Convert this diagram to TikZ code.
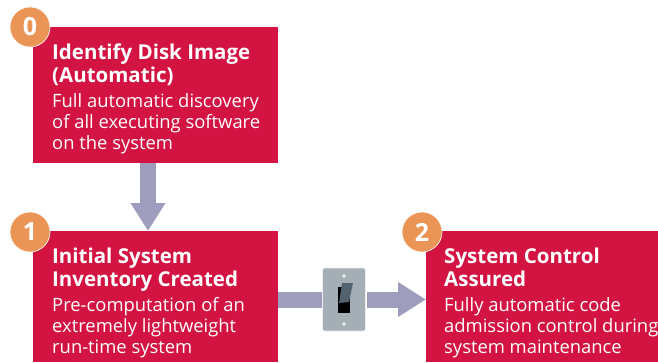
\documentclass[tikz,border=0pt]{standalone}
\usepackage{fontspec}
\setmainfont{Open Sans}
\usetikzlibrary{arrows.meta}
\definecolor{boxred}{HTML}{D31342}
\definecolor{stepdisc}{HTML}{EA9555}
\definecolor{flowpurple}{HTML}{9F9DBE}
\definecolor{plategrey}{HTML}{A3AEB5}
\definecolor{levergrey}{HTML}{52636F}
\tikzset{
	stagebox/.style={fill=boxred, anchor=north west, inner sep=0pt, outer sep=0pt},
	stagetitle/.style={anchor=north west, inner sep=0pt, text=white, align=left, font=\fontsize{20.5}{23}\selectfont\bfseries},
	stagebody/.style={anchor=north west, inner sep=0pt, text=white, align=left, font=\fontsize{18.4}{21}\selectfont},
	stagedisc/.style={circle, fill=stepdisc, draw=white!90!stepdisc, line width=0.7pt, minimum size=40pt, inner sep=0pt, text=white, font=\fontsize{25}{25}\selectfont\bfseries},
	flow/.style={line width=16pt, flowpurple, -{Triangle[length=28pt,width=33pt]}},
	flowplain/.style={line width=16pt, flowpurple}
}

\begin{document}
\begin{tikzpicture}[x=1pt, y=-1pt]
	\useasboundingbox (0,0) rectangle (658,362);
	% boxes
	\node[stagebox, minimum width=245pt, minimum height=136pt] (inventorydisk) at (33,27) {};
	\node[stagebox, minimum width=245pt, minimum height=131pt] (inventorysys) at (33,231) {};
	\node[stagebox, minimum width=232pt, minimum height=131pt] (controlsys) at (426,231) {};
	% texts
	\node[stagetitle] (titledisk) at (52,44) {Identify Disk Image\\(Automatic)};
	\node[stagebody] (bodydisk) at (52,93) {Full automatic discovery\\of all executing software\\on the system};
	\node[stagetitle] (titleinv) at (52,248) {Initial System\\Inventory Created};
	\node[stagebody] (bodyinv) at (52,297) {Pre-computation of an\\extremely lightweight\\run-time system};
	\node[stagetitle] (titlectl) at (444,248) {System Control\\Assured};
	\node[stagebody] (bodyctl) at (444,297) {Fully automatic code\\admission control during\\system maintenance};
	% numbered discs
	\node[stagedisc] (disczero) at (30,27) {0};
	\node[stagedisc] (discone) at (30,232) {1};
	\node[stagedisc] (disctwo) at (422,232) {2};
	% switch
	\node[fill=plategrey, draw=white!80!plategrey, line width=0.6pt, rounded corners=2.5pt, minimum width=43pt, minimum height=63pt, inner sep=0pt] (switch) at (344,299.5) {};
	\fill[white!80!plategrey] (344,276) circle (1.8);
	\fill[white!80!plategrey] (344,324) circle (1.8);
	\fill[black] (338,287) rectangle (350,313);
	\fill[levergrey] (342,283) -- (353,283) -- (349,302) -- (339,303) -- cycle;
	% connectors
	\draw[flow] ([xshift=-7.5pt]inventorydisk.south) -- ([xshift=-7.5pt]inventorysys.north);
	\draw[flowplain] (inventorysys.east |- switch) -- (switch.west);
	\draw[flow] ([xshift=1pt]switch.east) -- (controlsys.west |- switch);
\end{tikzpicture}
\end{document}
